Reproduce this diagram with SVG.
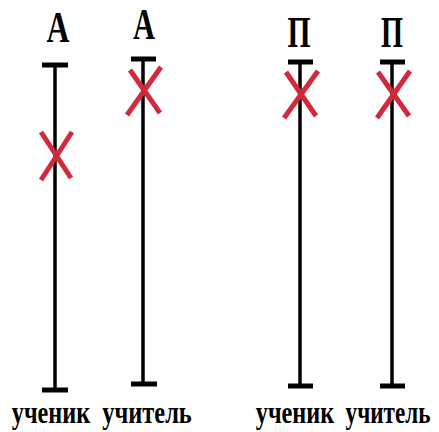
<svg xmlns="http://www.w3.org/2000/svg" width="439" height="432" viewBox="0 0 439 432">
<style>
.ax{stroke:#000;stroke-width:3.5;fill:none}
.bar{stroke:#000;stroke-width:5;fill:none}
.x{stroke:#d3293c;stroke-width:5;stroke-linecap:butt;fill:none}
.t{font-family:"Liberation Serif","DejaVu Serif",serif;font-weight:bold;fill:#000;text-anchor:middle}
.h{font-size:44px}
.l{font-size:31px}
</style>
<rect width="439" height="432" fill="#fff"/>
<g id="axis1">
<text class="t h" x="58" y="42" textLength="23" lengthAdjust="spacingAndGlyphs">А</text>
<line class="ax" x1="55" y1="65" x2="55" y2="390"/>
<line class="bar" x1="42" y1="65" x2="68" y2="65"/>
<line class="bar" x1="42" y1="390" x2="68" y2="390"/>
<path class="x" d="M41 180L72 132M41 132L71 178"/>
<text class="t l" transform="translate(51 423) scale(0.8 1)" x="0" y="0" textLength="98" lengthAdjust="spacingAndGlyphs">ученик</text>
</g>
<g id="axis2">
<text class="t h" x="144" y="39" textLength="22" lengthAdjust="spacingAndGlyphs">А</text>
<line class="ax" x1="143" y1="59" x2="143" y2="384"/>
<line class="bar" x1="131" y1="59" x2="156" y2="59"/>
<line class="bar" x1="131" y1="384" x2="157" y2="384"/>
<path class="x" d="M127 115L161 67M130 70L160 113"/>
<text class="t l" transform="translate(147 423) scale(0.8 1)" x="0" y="0" textLength="112" lengthAdjust="spacingAndGlyphs">учитель</text>
</g>
<g id="axis3">
<text class="t h" x="299" y="47" textLength="23" lengthAdjust="spacingAndGlyphs">П</text>
<line class="ax" x1="300" y1="62" x2="300" y2="386"/>
<line class="bar" x1="288" y1="62" x2="313" y2="62"/>
<line class="bar" x1="288" y1="386" x2="313" y2="386"/>
<path class="x" d="M284 118L318 71M286 72L316 116"/>
<text class="t l" transform="translate(295 423) scale(0.8 1)" x="0" y="0" textLength="98" lengthAdjust="spacingAndGlyphs">ученик</text>
</g>
<g id="axis4">
<text class="t h" x="392" y="47" textLength="22" lengthAdjust="spacingAndGlyphs">П</text>
<line class="ax" x1="392" y1="62" x2="392" y2="386"/>
<line class="bar" x1="380" y1="62" x2="405" y2="62"/>
<line class="bar" x1="380" y1="386" x2="405" y2="386"/>
<path class="x" d="M377 118L410 71M378 72L409 116"/>
<text class="t l" transform="translate(388 423) scale(0.8 1)" x="0" y="0" textLength="106" lengthAdjust="spacingAndGlyphs">учитель</text>
</g>
</svg>
